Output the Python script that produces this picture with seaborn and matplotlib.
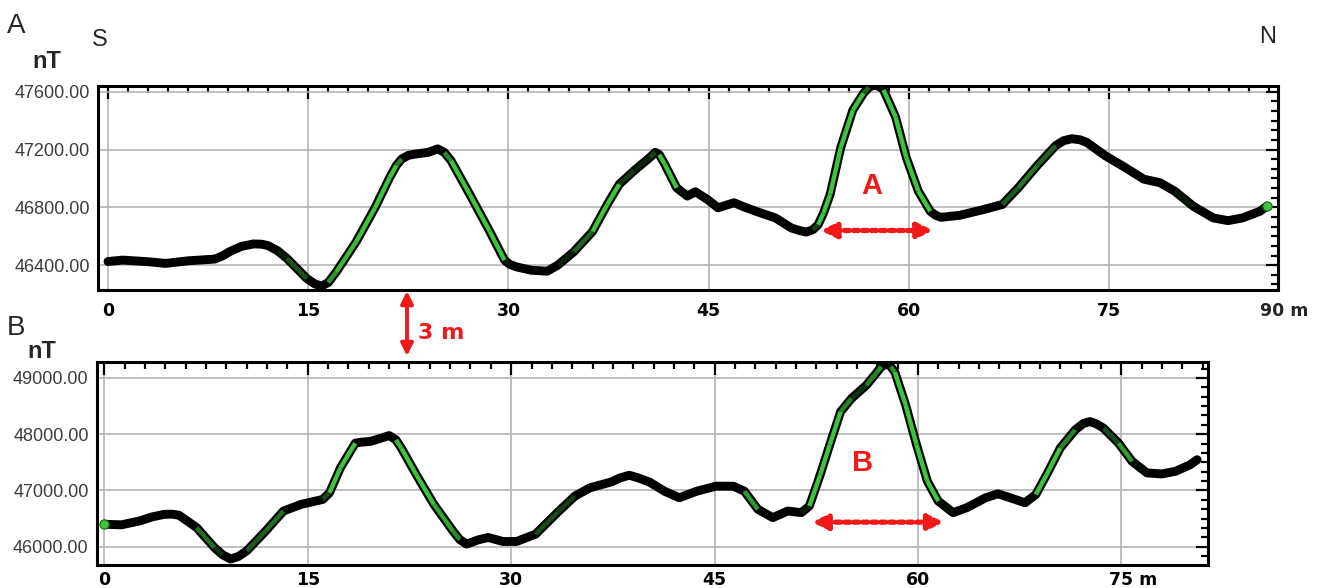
import numpy as np
import matplotlib
matplotlib.use('Agg')
import matplotlib.pyplot as plt
import matplotlib.transforms as mtrans
import seaborn as sns
from matplotlib.collections import LineCollection
from matplotlib.ticker import MultipleLocator

# profile A (upper line), distance in m, total field in nT
dist_a = [0.0, 1.1, 3.1, 4.3, 6.0, 8.0, 8.6, 9.1, 10.0, 10.9, 11.5, 12.0, 12.7,
          13.4, 14.9, 15.5, 16.0, 16.5, 17.1, 18.6, 20.0, 21.1, 21.6, 22.0, 22.5,
          23.1, 24.0, 24.7, 25.2, 25.7, 27.1, 28.6, 29.7, 30.1, 30.6, 31.7, 32.9,
          33.7, 34.9, 36.3, 37.4, 38.3, 39.4, 40.6, 41.0, 41.3, 41.7, 42.6, 43.4,
          44.0, 44.9, 45.7, 46.9, 47.7, 48.9, 50.0, 51.2, 51.8, 52.3, 52.8, 53.2,
          53.6, 54.1, 54.9, 55.8, 56.6, 57.0, 57.4, 57.8, 58.1, 59.0, 59.8, 60.7,
          61.6, 62.0, 62.4, 63.8, 65.6, 67.0, 68.2, 69.6, 71.0, 71.6, 72.2, 72.8,
          73.3, 74.7, 76.2, 77.6, 78.8, 79.9, 81.3, 82.8, 83.9, 85.0, 86.3, 86.8]
field_a = [46425, 46435, 46423, 46412, 46430, 46442, 46465, 46493, 46530, 46547,
           46545, 46535, 46500, 46447, 46307, 46270, 46255, 46280, 46353, 46563,
           46797, 47006, 47090, 47135, 47160, 47170, 47181, 47205, 47180, 47123,
           46890, 46633, 46435, 46405, 46388, 46365, 46358, 46400, 46493, 46633,
           46820, 46960, 47053, 47146, 47181, 47165, 47100, 46936, 46878, 46908,
           46855, 46797, 46832, 46801, 46761, 46727, 46657, 46640, 46629, 46645,
           46680, 46760, 46890, 47216, 47473, 47590, 47630, 47648, 47635, 47613,
           47426, 47146, 46913, 46773, 46745, 46731, 46745, 46785, 46820, 46936,
           47088, 47228, 47262, 47275, 47268, 47251, 47158, 47076, 46995, 46971,
           46913, 46808, 46727, 46708, 46727, 46773, 46808]

# profile B (lower line, 3 m away)
dist_b = [0.0, 1.25, 2.6, 3.5, 4.4, 5.0, 5.5, 6.8, 8.1, 8.7, 9.3, 9.9, 10.5, 11.9,
          13.2, 14.5, 16.1, 16.6, 17.4, 18.5, 19.0, 19.6, 20.4, 21.0, 21.5, 21.9,
          23.0, 24.3, 25.7, 26.2, 26.7, 27.1, 27.5, 28.3, 29.4, 30.4, 31.8, 33.4,
          34.7, 35.8, 37.4, 38.0, 38.7, 39.3, 40.2, 41.3, 42.4, 43.7, 45.1, 46.4,
          47.2, 48.2, 49.3, 50.4, 51.4, 52.0, 52.8, 53.5, 54.3, 55.1, 56.2, 57.0,
          57.3, 57.7, 58.0, 58.3, 59.1, 59.9, 60.7, 61.5, 62.6, 63.6, 65.0, 65.9,
          66.8, 67.9, 68.7, 69.5, 70.5, 71.6, 72.2, 72.7, 73.2, 73.7, 74.8, 75.8,
          76.9, 78.0, 79.0, 80.1, 80.6]
field_b = [46400, 46390, 46459, 46530, 46576, 46580, 46560, 46341, 45988, 45860,
           45782, 45830, 45929, 46282, 46635, 46753, 46841, 46959, 47400, 47841,
           47860, 47871, 47929, 47976, 47900, 47753, 47282, 46753, 46282, 46130,
           46047, 46080, 46118, 46165, 46094, 46094, 46224, 46606, 46900, 47047,
           47153, 47220, 47271, 47230, 47150, 46988, 46871, 46988, 47076, 47076,
           46988, 46665, 46518, 46635, 46606, 46724, 47282, 47812, 48400, 48635,
           48871, 49106, 49200, 49253, 49200, 49106, 48518, 47812, 47165, 46812,
           46606, 46694, 46871, 46941, 46871, 46782, 46929, 47282, 47753, 48076,
           48190, 48224, 48180, 48106, 47841, 47518, 47312, 47294, 47341, 47459,
           47547]

xticks = [0, 15, 30, 45, 60, 75]
xlabels = ['0', '15', '30', '45', '60', '75']
yticks_a = [46400, 46800, 47200, 47600]
yticks_b = [46000, 47000, 48000, 49000]

RED = '#f01818'
GREEN = '#3cc43c'
BOLD_TICK = dict(family='DejaVu Sans', fontsize=12.5, fontweight='bold')

sns.set_style('white')
plt.rcParams['font.family'] = ['Liberation Sans', 'DejaVu Sans']

W, H = 1322, 588
fig = plt.figure(figsize=(W / 100, H / 100), dpi=100)


def px_axes(l, t, r, b):
    return fig.add_axes([l / W, 1 - b / H, (r - l) / W, (b - t) / H])


ax_a = px_axes(98, 86, 1278, 290)
ax_b = px_axes(97, 362, 1208, 565)


def draw_profile(ax, x, y, xlim, ylim, yticks, ystep, xpad):
    x = np.asarray(x, float)
    y = np.asarray(y, float)
    ax.set_xlim(*xlim)
    ax.set_ylim(*ylim)
    sns.lineplot(x=x, y=y, ax=ax, color='black', linewidth=6.4, sort=False,
                 estimator=None, solid_capstyle='round', solid_joinstyle='round',
                 zorder=3)
    # green fill shows where the samples are spread out (steep parts)
    pts = ax.transData.transform(np.column_stack([x, y]))
    d = np.diff(pts, axis=0)
    ang = np.degrees(np.arctan2(np.abs(d[:, 1]), np.abs(d[:, 0]) + 1e-9))
    alpha = np.clip((ang - 36) / 22, 0, 1)
    segs = np.stack([np.column_stack([x[:-1], y[:-1]]),
                     np.column_stack([x[1:], y[1:]])], axis=1)
    cols = np.zeros((len(segs), 4))
    cols[:, :3] = matplotlib.colors.to_rgb(GREEN)
    cols[:, 3] = alpha
    ax.add_collection(LineCollection(segs, colors=cols, linewidths=3.2,
                                     capstyle='butt', zorder=4))
    ax.set_xticks(xticks)
    ax.set_xticklabels(xlabels, color='black', **BOLD_TICK)
    ax.xaxis.set_minor_locator(MultipleLocator(1.5))
    ax.set_yticks(yticks)
    ax.set_yticklabels([f'{v:.2f}' for v in yticks], fontsize=13, color='#3c3c3c')
    ax.yaxis.set_minor_locator(MultipleLocator(ystep))
    ax.tick_params(which='both', direction='in', top=True, right=True,
                   color='black', width=1.6)
    ax.tick_params(which='major', length=9)
    ax.tick_params(which='minor', length=5)
    ax.tick_params(axis='x', which='major', pad=xpad)
    ax.tick_params(axis='y', which='major', pad=6)
    ax.grid(True, which='major', color='#b4b4b4', linewidth=1.2)
    ax.set_axisbelow(True)
    for s in ax.spines.values():
        s.set_visible(True)
        s.set_color('black')
        s.set_linewidth(2.2)
    ax.set_xlabel('')
    ax.set_ylabel('')


draw_profile(ax_a, dist_a, field_a, (-0.75, 87.65), (46228, 47640),
             yticks_a, 400 / 6, 9)
draw_profile(ax_b, dist_b, field_b, (-0.55, 81.4), (45676, 49283),
             yticks_b, 1000 / 6, 4)

# unit after the last label, like "75 m"
lab = ax_b.get_xticklabels()[-1]
lab.set_text('75 m')
ax_b.set_xticklabels(xlabels[:-1] + ['75 m'], color='black', **BOLD_TICK)
lab = ax_b.get_xticklabels()[-1]
lab.set_ha('left')
lab.set_transform(lab.get_transform() +
                  mtrans.ScaledTranslation(-12 / 100, 0, fig.dpi_scale_trans))

ax_a.annotate('90 m', xy=(1, 0), xycoords='axes fraction', xytext=(-13, -9),
              textcoords='offset points', ha='left', va='top', **BOLD_TICK)

# end samples drawn as single green dots
sns.scatterplot(x=[dist_a[-1]], y=[field_a[-1]], ax=ax_a, color=GREEN, s=45,
                edgecolor='#1a6a1a', linewidth=0.8, zorder=5)
sns.scatterplot(x=[dist_b[0]], y=[field_b[0]], ax=ax_b, color=GREEN, s=45,
                edgecolor='#1a6a1a', linewidth=0.8, zorder=5)

# panel letters, orientation and unit labels
fig.text(7 / W, 1 - 26 / H, 'A', fontsize=20, va='center', ha='left')
fig.text(7 / W, 1 - 328 / H, 'B', fontsize=20, va='center', ha='left')
fig.text(100 / W, 1 - 40 / H, 'S', fontsize=17, va='center', ha='center')
fig.text(1268 / W, 1 - 37 / H, 'N', fontsize=17, va='center', ha='center')
fig.text(47 / W, 1 - 62 / H, 'nT', fontsize=17, fontweight='bold', va='center', ha='center')
fig.text(42 / W, 1 - 352 / H, 'nT', fontsize=17, fontweight='bold', va='center', ha='center')

# anomaly markers
ax_a.text(57.2, 46950, 'A', color=RED, fontsize=21, fontweight='bold',
          ha='center', va='center')
ax_a.annotate('', xy=(61.8, 46640), xytext=(53.4, 46640),
              arrowprops=dict(arrowstyle='<|-|>', color=RED, lw=3.8,
                              linestyle=(0, (0.9, 0.8)), mutation_scale=22,
                              shrinkA=0, shrinkB=0))
ax_b.text(55.9, 47480, 'B', color=RED, fontsize=21, fontweight='bold',
          ha='center', va='center')
ax_b.annotate('', xy=(61.9, 46437), xytext=(52.2, 46437),
              arrowprops=dict(arrowstyle='<|-|>', color=RED, lw=3.8,
                              linestyle=(0, (0.9, 0.8)), mutation_scale=22,
                              shrinkA=0, shrinkB=0))

# spacing between the two lines
fig.add_artist(matplotlib.patches.FancyArrowPatch(
    (407 / W, 1 - 291 / H), (407 / W, 1 - 356 / H), transform=fig.transFigure,
    arrowstyle='<|-|>', color=RED, lw=2.8, mutation_scale=18,
    shrinkA=0, shrinkB=0))
fig.text(418 / W, 1 - 333 / H, '3 m', color=RED, family='DejaVu Sans',
         fontsize=16, fontweight='bold', va='center', ha='left')

fig.savefig('out.png', dpi=100)
